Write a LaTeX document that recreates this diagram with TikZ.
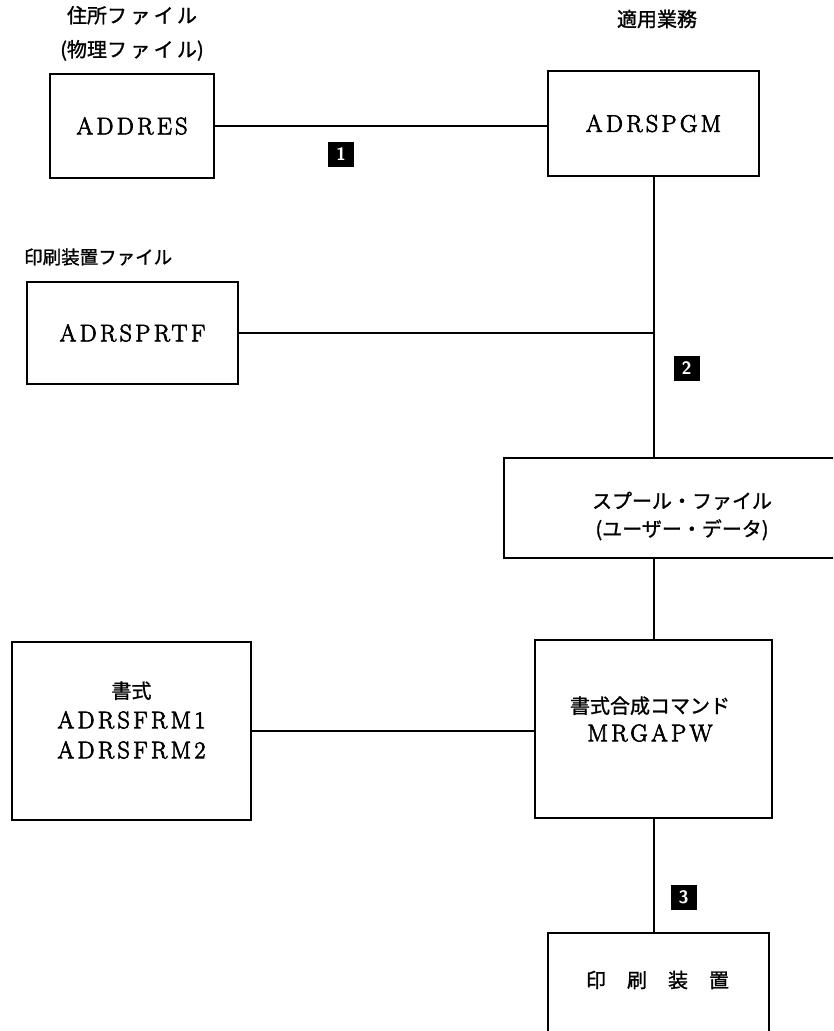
\documentclass[tikz,border=0pt]{standalone}
\usepackage{fontspec}
\usetikzlibrary{positioning}
\newfontfamily\jp{Noto Sans CJK JP}[FakeBold=1.2]
\newfontfamily\lat{Latin Modern Roman}[LetterSpace=14,FakeBold=3]

\tikzset{
	box/.style={draw, line width=2pt, inner sep=0pt},
	lbl/.style={font=\jp\fontsize{20}{28}\selectfont, inner sep=0pt, align=center},
	code/.style={font=\lat\fontsize{24}{30}\selectfont, inner sep=0pt},
	badge/.style={fill=black, text=white, font=\sffamily\bfseries\fontsize{18}{18}\selectfont, minimum width=26pt, minimum height=25pt, inner sep=0pt},
	conn/.style={line width=2pt},
}

\begin{document}
\begin{tikzpicture}[x=1pt,y=-1pt]
		\useasboundingbox (0,0) rectangle (833,1031);
		\clip (0,0) rectangle (833,1031);
		% boxes
		\node[box, code, minimum width=164pt, minimum height=104pt] (addres) at (132,126) {ADDRES};
		\node[box, code, minimum width=211pt, minimum height=105pt] (adrspgm) at (653.5,123.5) {ADRSPGM};
		\node[box, code, minimum width=211pt, minimum height=102pt] (adrsprtf) at (132.5,333) {ADRSPRTF};
		\node[box, minimum width=356pt, minimum height=100pt] (spool) at (682,508) {};
		\node[box, minimum width=239pt, minimum height=178pt] (form) at (131.5,731) {};
		\node[box, minimum width=237pt, minimum height=178pt] (mrgapw) at (653.5,729) {};
		\node[box, minimum width=221pt, minimum height=200pt, anchor=north] (printer) at (658.5,932) {};
		% box texts
		\node[lbl] (spooltxt) at (682,516) {スプール・ファイル\\(ユーザー・データ)};
		\node[lbl, font=\jp\fontsize{20}{30}\selectfont] (formtxt) at (131.5,720) {書式\\{\fontsize{24}{30}\lat ADRSFRM1}\\{\fontsize{24}{30}\lat ADRSFRM2}};
		\node[lbl] (mrgapwtxt) at (650,719) {書式合成コマンド\\{\fontsize{24}{28}\lat MRGAPW}};
		\node[lbl] (printertxt) at (657.5,980) {印\hspace{21pt}刷\hspace{21pt}装\hspace{21pt}置};
		% labels
		\node[lbl, above=12pt of addres, font=\jp\fontsize{20}{34}\selectfont] (addreslbl) {住所フ\,ァ\,イ\,ル\\(物理フ\,ァ\,イ\,ル)};
		\node[lbl] (adrspgmlbl) at (657,19) {適用業務};
		\node[lbl, anchor=west, font=\jp\fontsize{18.5}{24}\selectfont] (adrsprtflbl) at (24,257) {印刷装置ファイル};
		% connectors
		\coordinate (tee) at (adrspgm.south |- adrsprtf.east);
		\draw[conn] (addres.east) -- (addres.east -| adrspgm.west);
		\draw[conn] (adrspgm.south) -- (adrspgm.south |- spool.north);
		\draw[conn] (adrsprtf.east) -- (tee);
		\draw[conn] (spool.south -| mrgapw.north) -- (mrgapw.north);
		\draw[conn] (form.east) -- (form.east -| mrgapw.west);
		\draw[conn] (mrgapw.south) -- (mrgapw.south |- printer.north);
		% numbers
		\node[badge] (n1) at (341,154) {1};
		\node[badge] (n2) at (686.5,368.5) {2};
		\node[badge] (n3) at (683.5,897) {3};
\end{tikzpicture}
\end{document}
